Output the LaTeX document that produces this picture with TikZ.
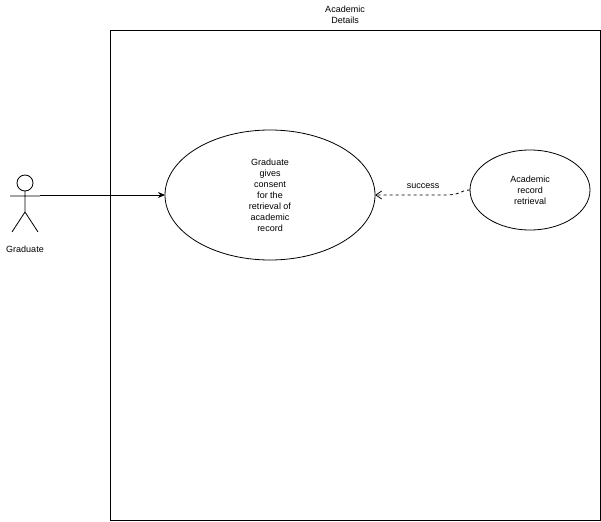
\documentclass[tikz,border=0pt]{standalone}
\usepackage{fontspec}
\setmainfont{Liberation Sans}
\usetikzlibrary{arrows.meta}
\begin{document}
\begin{tikzpicture}[x=1pt,y=-1pt,
  txt/.style={font=\fontsize{9}{11}\selectfont,align=center},
  uc/.style={draw,ellipse,line width=0.8pt}]
\useasboundingbox (0,0) rectangle (601,521);
\draw[line width=0.8pt] (110,30) rectangle (600,520);
\node[txt] (title) at (345,15) {Academic\\Details};
\draw[line width=0.8pt] (270,195) ellipse [x radius=105,y radius=65];
\node[txt] (uc1) at (270,195) {Graduate\\gives\\consent\\for the\\retrieval of\\academic\\record};
\coordinate (uc1w) at (165,195);
\coordinate (uc1e) at (375,195);
\draw[line width=0.8pt] (530,190) ellipse [x radius=60,y radius=40];
\node[txt] (uc2) at (530,190) {Academic\\record\\retrieval};
\coordinate (uc2w) at (470,190);
% actor
\draw[line width=0.8pt] (25,183) circle (8);
\draw[line width=0.8pt] (25,191) -- (25,212) (10,196) -- (40,196) (25,212) -- (12,232) (25,212) -- (38,232);
\node[txt] (actor) at (25,249) {Graduate};
\coordinate (actr) at (40,195);
\draw[-{Stealth[length=7pt,width=6pt]},line width=0.8pt] (actr) -- (uc1w);
\draw[dashed,-{Straight Barb[length=6pt,width=8pt]},line width=0.8pt] (uc2w) .. controls (460,190) and (462,195) .. (445,195) -- (uc1e);
\node[txt] (lbl) at (423,186) {success};
\end{tikzpicture}
\end{document}
